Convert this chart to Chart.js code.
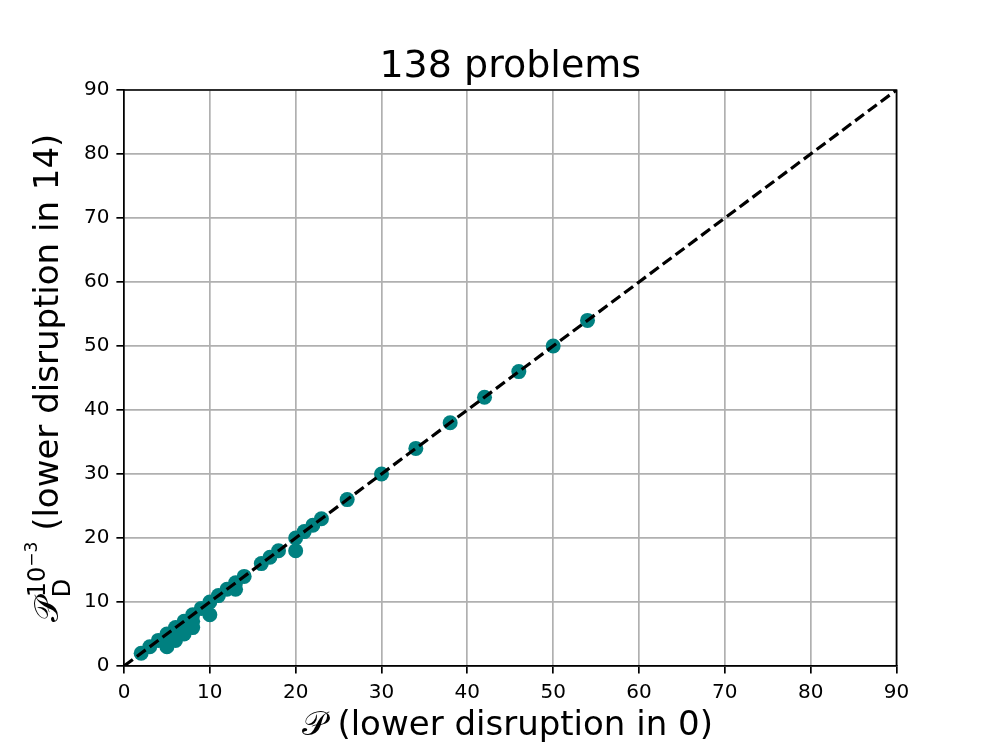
<!DOCTYPE html>
<html lang="en">
<head>
  <meta charset="UTF-8">
  <title>138 problems</title>
  <script src="https://cdn.jsdelivr.net/npm/chart.js"></script>
  <style>
    body { margin: 0; background: #fff; }
    #wrap { width: 996px; height: 747px; }
  </style>
</head>
<body>
  <div id="wrap"><canvas id="scatter"></canvas></div>

  <script>
    // values
    const xVals = [2, 3, 4, 5, 5, 5, 6, 6, 6, 7, 7, 7, 8, 8, 8, 9, 10, 10, 11, 12, 13, 13, 14, 16, 17, 18, 20, 20, 21, 22, 23, 26, 30, 34, 38, 42, 46, 50, 54];
    const yVals = [2, 3, 4, 5, 4, 3, 6, 5, 4, 7, 6, 5, 8, 7, 6, 9, 10, 8, 11, 12, 13, 12, 14, 16, 17, 18, 20, 18, 21, 22, 23, 26, 30, 34, 38, 42, 46, 50, 54];
    const diagLine = [0, 90];
    const axisMin = 0, axisMax = 90, axisStep = 10;

    const titleText = '138 problems';
    const xLabelText = '\u{1D4AB} (lower disruption in 0)';
    const yLabelRest = ' (lower disruption in 14)';

    const FONT = "'DejaVu Sans', sans-serif";

    // title, axis labels (with sub/superscripts) and the top/right spines
    const decor = {
      id: 'decor',
      afterDraw(chart) {
        const ctx = chart.ctx;
        const a = chart.chartArea;
        const cx = (a.left + a.right) / 2;
        const cy = (a.top + a.bottom) / 2;
        ctx.save();

        ctx.strokeStyle = '#000';
        ctx.lineWidth = 1.7;
        ctx.beginPath();
        ctx.moveTo(a.left, a.top);
        ctx.lineTo(a.right, a.top);
        ctx.lineTo(a.right, a.bottom);
        ctx.stroke();

        ctx.fillStyle = '#000';
        ctx.textBaseline = 'alphabetic';
        ctx.textAlign = 'center';
        ctx.font = '38px ' + FONT;
        ctx.fillText(titleText, cx, 77);

        ctx.font = '34px ' + FONT;
        ctx.fillText(xLabelText, cx - 3, 735);

        // y label: P_D^{10^{-3}} (lower disruption in 14), rotated
        ctx.textAlign = 'left';
        const big = '34px ' + FONT, mid = '24px ' + FONT, small = '17px ' + FONT;
        ctx.font = big;
        const wP = ctx.measureText('\u{1D4AB}').width;
        const wRest = ctx.measureText(yLabelRest).width;
        ctx.font = mid;
        const wD = ctx.measureText('D').width;
        const w10 = ctx.measureText('10').width;
        ctx.font = small;
        const wExp = ctx.measureText('\u22123').width;
        const scriptW = Math.max(wD, w10 + wExp);
        const total = wP + scriptW + wRest;

        ctx.translate(58, cy + total / 2);
        ctx.rotate(-Math.PI / 2);
        ctx.font = big;
        ctx.fillText('\u{1D4AB}', 0, 0);
        ctx.font = mid;
        ctx.fillText('D', wP, 12);
        ctx.fillText('10', wP, -13);
        ctx.font = small;
        ctx.fillText('\u22123', wP + w10, -21);
        ctx.font = big;
        ctx.fillText(yLabelRest, wP + scriptW, 0);

        ctx.restore();
      }
    };

    const axisCommon = {
      type: 'linear',
      min: axisMin,
      max: axisMax,
      ticks: {
        stepSize: axisStep,
        color: '#000',
        font: { family: FONT, size: 20 },
        padding: 7,
        maxRotation: 0
      },
      grid: {
        color: '#b0b0b0',
        lineWidth: 1.7,
        tickColor: '#000',
        tickLength: 7.6,
        tickWidth: 1.7
      },
      border: { color: '#000', width: 1.7 }
    };

    new Chart(document.getElementById('scatter'), {
      type: 'scatter',
      data: {
        datasets: [
          {
            type: 'line',
            label: 'y = x',
            data: diagLine.map(v => ({ x: v, y: v })),
            borderColor: '#000',
            borderWidth: 3.2,
            borderDash: [11, 5],
            pointRadius: 0,
            fill: false
          },
          {
            label: 'problems',
            data: xVals.map((x, i) => ({ x: x, y: yVals[i] })),
            backgroundColor: '#008080',
            borderColor: '#008080',
            borderWidth: 0,
            pointRadius: 7.5,
            pointHoverRadius: 7.5
          }
        ]
      },
      options: {
        responsive: true,
        maintainAspectRatio: false,
        animation: false,
        layout: { padding: { top: 90, right: 99.5, left: 0, bottom: 0 } },
        plugins: {
          legend: { display: false },
          tooltip: { enabled: false }
        },
        scales: {
          x: Object.assign({}, axisCommon, { afterFit: s => { s.height = 81; } }),
          y: Object.assign({}, axisCommon, { afterFit: s => { s.width = 124; } })
        }
      },
      plugins: [decor]
    });
  </script>
</body>
</html>
